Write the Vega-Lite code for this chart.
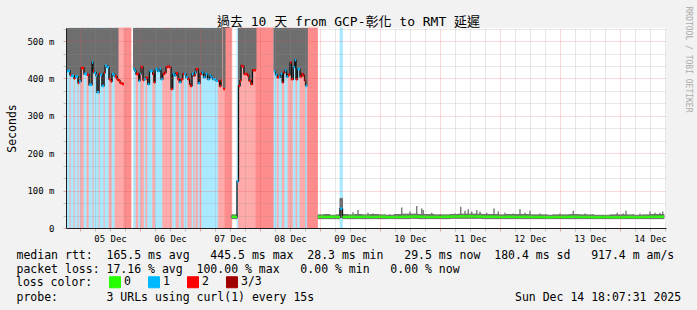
{
  "$schema": "https://vega.github.io/schema/vega-lite/v6.json",
  "width": 600,
  "height": 200,
  "autosize": {"type": "none"},
  "padding": {"left": 66, "top": 28, "right": 31, "bottom": 82},
  "background": "#f2f2f2",
  "config": {"view": {"fill": "#ffffff", "stroke": null}, "font": "DejaVu Sans Mono"},
  "datasets": {
    "periods": [
      {"t0":-5.2,"t1":-4.0,"loss":"1","med":420,"lo":420,"hi":10000},
      {"t0":-4.0,"t1":-3.6,"loss":"2","med":410,"lo":410,"hi":10000},
      {"t0":-3.6,"t1":-2.4,"loss":"1","med":407,"lo":407,"hi":10000},
      {"t0":-2.4,"t1":-2.0,"loss":"2","med":400,"lo":400,"hi":10000},
      {"t0":-2.0,"t1":-0.8,"loss":"1","med":405,"lo":405,"hi":10000},
      {"t0":-0.8,"t1":-0.4,"loss":"2","med":388,"lo":388,"hi":10000},
      {"t0":-0.4,"t1":0.4,"loss":"1","med":392,"lo":392,"hi":10000},
      {"t0":0.4,"t1":1.6,"loss":"2","med":428,"lo":428,"hi":10000},
      {"t0":1.6,"t1":2.8,"loss":"1","med":412,"lo":412,"hi":10000},
      {"t0":2.8,"t1":3.6,"loss":"2","med":410,"lo":410,"hi":10000},
      {"t0":3.6,"t1":4.8,"loss":"1","med":383,"lo":383,"hi":10000},
      {"t0":4.8,"t1":5.2,"loss":"1","med":443,"lo":443,"hi":10000},
      {"t0":5.2,"t1":5.6,"loss":"2","med":420,"lo":420,"hi":10000},
      {"t0":5.6,"t1":6.4,"loss":"1","med":415,"lo":415,"hi":10000},
      {"t0":6.4,"t1":6.8,"loss":"1","med":407,"lo":407,"hi":10000},
      {"t0":6.8,"t1":7.6,"loss":"1","med":363,"lo":363,"hi":10000},
      {"t0":7.6,"t1":8.0,"loss":"2","med":412,"lo":412,"hi":10000},
      {"t0":8.0,"t1":8.8,"loss":"1","med":410,"lo":410,"hi":10000},
      {"t0":8.8,"t1":9.6,"loss":"1","med":380,"lo":380,"hi":10000},
      {"t0":9.6,"t1":10.0,"loss":"2","med":415,"lo":415,"hi":10000},
      {"t0":10.0,"t1":10.8,"loss":"1","med":434,"lo":434,"hi":10000},
      {"t0":10.8,"t1":11.6,"loss":"1","med":430,"lo":430,"hi":10000},
      {"t0":11.6,"t1":12.4,"loss":"2","med":398,"lo":398,"hi":10000},
      {"t0":12.4,"t1":12.8,"loss":"2","med":392,"lo":392,"hi":10000},
      {"t0":12.8,"t1":13.6,"loss":"1","med":412,"lo":412,"hi":10000},
      {"t0":13.6,"t1":14.0,"loss":"1","med":408,"lo":408,"hi":10000},
      {"t0":14.0,"t1":14.8,"loss":"2","med":405,"lo":405,"hi":10000},
      {"t0":14.8,"t1":15.2,"loss":"2","med":398,"lo":398,"hi":10000},
      {"t0":15.2,"t1":16.0,"loss":"2","med":395},
      {"t0":16.0,"t1":16.8,"loss":"2","med":388},
      {"t0":16.8,"t1":17.6,"loss":"2","med":385},
      {"t0":17.6,"t1":20.4,"loss":"3/3"},
      {"t0":21.4,"t1":22.0,"loss":"1","med":425,"lo":425,"hi":10000},
      {"t0":22.0,"t1":22.4,"loss":"1","med":420,"lo":420,"hi":10000},
      {"t0":22.4,"t1":23.5,"loss":"2","med":412,"lo":412,"hi":10000},
      {"t0":23.5,"t1":24.0,"loss":"1","med":394,"lo":394,"hi":10000},
      {"t0":24.0,"t1":24.4,"loss":"1","med":412,"lo":412,"hi":10000},
      {"t0":24.4,"t1":25.2,"loss":"2","med":431,"lo":431,"hi":10000},
      {"t0":25.2,"t1":25.7,"loss":"2","med":396,"lo":396,"hi":10000},
      {"t0":25.7,"t1":26.4,"loss":"1","med":398,"lo":398,"hi":10000},
      {"t0":26.4,"t1":27.1,"loss":"2","med":402,"lo":402,"hi":10000},
      {"t0":27.1,"t1":27.8,"loss":"1","med":385,"lo":385,"hi":10000},
      {"t0":27.8,"t1":29.1,"loss":"1","med":420,"lo":420,"hi":10000},
      {"t0":29.1,"t1":29.6,"loss":"2","med":412,"lo":412,"hi":10000},
      {"t0":29.6,"t1":30.1,"loss":"2","med":390,"lo":390,"hi":10000},
      {"t0":30.1,"t1":31.0,"loss":"1","med":425,"lo":425,"hi":10000},
      {"t0":31.0,"t1":31.8,"loss":"1","med":420,"lo":420,"hi":10000},
      {"t0":31.8,"t1":32.4,"loss":"1","med":425,"lo":425,"hi":10000},
      {"t0":32.4,"t1":33.1,"loss":"1","med":398,"lo":398,"hi":10000},
      {"t0":33.1,"t1":33.8,"loss":"2","med":412,"lo":412,"hi":10000},
      {"t0":33.8,"t1":34.4,"loss":"2","med":416,"lo":416,"hi":10000},
      {"t0":34.4,"t1":35.0,"loss":"2","med":430,"lo":430,"hi":10000},
      {"t0":35.0,"t1":35.8,"loss":"2","med":432,"lo":432,"hi":10000},
      {"t0":35.8,"t1":36.4,"loss":"2","med":430,"lo":430,"hi":10000},
      {"t0":36.4,"t1":37.1,"loss":"2","med":372,"lo":372,"hi":10000},
      {"t0":37.1,"t1":37.8,"loss":"1","med":412,"lo":412,"hi":10000},
      {"t0":37.8,"t1":38.4,"loss":"1","med":408,"lo":408,"hi":10000},
      {"t0":38.4,"t1":39.2,"loss":"2","med":414,"lo":414,"hi":10000},
      {"t0":39.2,"t1":39.7,"loss":"2","med":398,"lo":398,"hi":10000},
      {"t0":39.7,"t1":40.4,"loss":"1","med":390,"lo":390,"hi":10000},
      {"t0":40.4,"t1":41.1,"loss":"2","med":398,"lo":398,"hi":10000},
      {"t0":41.1,"t1":41.7,"loss":"2","med":412,"lo":412,"hi":10000},
      {"t0":41.7,"t1":42.4,"loss":"1","med":412,"lo":412,"hi":10000},
      {"t0":42.4,"t1":43.1,"loss":"1","med":403,"lo":403,"hi":10000},
      {"t0":43.1,"t1":43.8,"loss":"2","med":398,"lo":398,"hi":10000},
      {"t0":43.8,"t1":44.2,"loss":"2","med":385,"lo":385,"hi":10000},
      {"t0":44.2,"t1":44.8,"loss":"2","med":380,"lo":380,"hi":10000},
      {"t0":44.8,"t1":45.5,"loss":"1","med":412,"lo":412,"hi":10000},
      {"t0":45.5,"t1":46.0,"loss":"2","med":408,"lo":408,"hi":10000},
      {"t0":46.0,"t1":46.4,"loss":"1","med":416,"lo":416,"hi":10000},
      {"t0":46.4,"t1":47.3,"loss":"2","med":425,"lo":425,"hi":10000},
      {"t0":47.3,"t1":48.0,"loss":"1","med":387,"lo":387,"hi":10000},
      {"t0":48.0,"t1":48.7,"loss":"2","med":412,"lo":412,"hi":10000},
      {"t0":48.7,"t1":49.4,"loss":"1","med":416,"lo":416,"hi":10000},
      {"t0":49.4,"t1":50.2,"loss":"1","med":403,"lo":403,"hi":10000},
      {"t0":50.2,"t1":51.0,"loss":"1","med":412,"lo":412,"hi":10000},
      {"t0":51.0,"t1":51.8,"loss":"1","med":398,"lo":398,"hi":10000},
      {"t0":51.8,"t1":52.4,"loss":"1","med":408,"lo":408,"hi":10000},
      {"t0":52.4,"t1":53.0,"loss":"1","med":403,"lo":403,"hi":10000},
      {"t0":53.0,"t1":54.4,"loss":"1","med":398,"lo":398,"hi":10000},
      {"t0":54.4,"t1":55.3,"loss":"1","med":394,"lo":394,"hi":10000},
      {"t0":55.3,"t1":55.8,"loss":"2","med":394,"lo":394,"hi":10000},
      {"t0":55.8,"t1":56.4,"loss":"2","med":380,"lo":380,"hi":10000},
      {"t0":56.4,"t1":56.7,"loss":"2","med":394,"lo":394,"hi":10000},
      {"t0":56.7,"t1":57.3,"loss":"2"},
      {"t0":57.3,"t1":58.0,"loss":"2","med":372,"lo":372,"hi":10000},
      {"t0":58.0,"t1":60.7,"loss":"3/3"},
      {"t0":60.7,"t1":62.8,"loss":"0","med":30,"lo":25,"hi":35},
      {"t0":62.8,"t1":63.4,"loss":"1","med":125},
      {"t0":63.4,"t1":64.0,"loss":"2","med":380,"lo":380,"hi":10000},
      {"t0":64.0,"t1":64.4,"loss":"2","med":394,"lo":394,"hi":10000},
      {"t0":64.4,"t1":65.0,"loss":"2","med":434,"lo":434,"hi":10000},
      {"t0":65.0,"t1":65.6,"loss":"2","med":432,"lo":432,"hi":10000},
      {"t0":65.6,"t1":66.4,"loss":"2","med":412,"lo":412,"hi":10000},
      {"t0":66.4,"t1":67.0,"loss":"2","med":412,"lo":412,"hi":10000},
      {"t0":67.0,"t1":67.6,"loss":"2","med":408,"lo":408,"hi":10000},
      {"t0":67.6,"t1":68.4,"loss":"2","med":394,"lo":394,"hi":10000},
      {"t0":68.4,"t1":69.0,"loss":"2","med":385,"lo":385,"hi":10000},
      {"t0":69.0,"t1":69.6,"loss":"2","med":422,"lo":422,"hi":10000},
      {"t0":69.6,"t1":70.4,"loss":"2","med":422,"lo":422,"hi":10000},
      {"t0":70.4,"t1":77.6,"loss":"3/3"},
      {"t0":77.6,"t1":78.2,"loss":"1","med":419,"lo":419,"hi":10000},
      {"t0":78.2,"t1":78.9,"loss":"1","med":410,"lo":410,"hi":10000},
      {"t0":78.9,"t1":79.6,"loss":"2","med":403,"lo":403,"hi":10000},
      {"t0":79.6,"t1":80.2,"loss":"1","med":403,"lo":403,"hi":10000},
      {"t0":80.2,"t1":80.9,"loss":"1","med":412,"lo":412,"hi":10000},
      {"t0":80.9,"t1":81.4,"loss":"2","med":390,"lo":390,"hi":10000},
      {"t0":81.4,"t1":81.9,"loss":"2","med":416,"lo":416,"hi":10000},
      {"t0":81.9,"t1":82.6,"loss":"1","med":422,"lo":422,"hi":10000},
      {"t0":82.6,"t1":83.2,"loss":"1","med":405,"lo":405,"hi":10000},
      {"t0":83.2,"t1":84.0,"loss":"2","med":410,"lo":410,"hi":10000},
      {"t0":84.0,"t1":84.6,"loss":"2","med":443,"lo":443,"hi":10000},
      {"t0":84.6,"t1":85.3,"loss":"2","med":398,"lo":398,"hi":10000},
      {"t0":85.3,"t1":85.9,"loss":"1","med":430,"lo":430,"hi":10000},
      {"t0":85.9,"t1":86.4,"loss":"1","med":449,"lo":449,"hi":10000},
      {"t0":86.4,"t1":87.0,"loss":"2","med":398,"lo":398,"hi":10000},
      {"t0":87.0,"t1":88.0,"loss":"1","med":425,"lo":425,"hi":10000},
      {"t0":88.0,"t1":88.6,"loss":"2","med":405,"lo":405,"hi":10000},
      {"t0":88.6,"t1":89.2,"loss":"2","med":412,"lo":412,"hi":10000},
      {"t0":89.2,"t1":89.8,"loss":"2","med":408,"lo":408,"hi":10000},
      {"t0":89.8,"t1":90.2,"loss":"2","med":395,"lo":395,"hi":10000},
      {"t0":90.2,"t1":90.9,"loss":"1","med":380,"lo":380,"hi":10000},
      {"t0":90.9,"t1":95.0,"loss":"3/3"},
      {"t0":95.2,"t1":97.6,"loss":"0","med":30,"lo":25,"hi":35},
      {"t0":97.6,"t1":100.0,"loss":"0","med":29.5,"lo":25,"hi":36},
      {"t0":100.0,"t1":102.4,"loss":"0","med":30,"lo":25,"hi":34},
      {"t0":102.4,"t1":104.0,"loss":"0","med":29.5,"lo":25,"hi":35},
      {"t0":104.0,"t1":105.0,"loss":"1","med":52,"lo":28,"hi":79},
      {"t0":105.0,"t1":107.2,"loss":"0","med":29.5,"lo":25,"hi":36},
      {"t0":107.2,"t1":110.0,"loss":"0","med":30,"lo":25,"hi":35},
      {"t0":110.0,"t1":112.8,"loss":"0","med":29.5,"lo":25,"hi":36},
      {"t0":112.8,"t1":116.0,"loss":"0","med":30,"lo":25,"hi":35},
      {"t0":116.0,"t1":119.2,"loss":"0","med":29.5,"lo":25,"hi":36},
      {"t0":119.2,"t1":122.4,"loss":"0","med":30,"lo":25,"hi":35},
      {"t0":122.4,"t1":125.6,"loss":"0","med":29,"lo":25,"hi":34},
      {"t0":125.6,"t1":128.8,"loss":"0","med":29.5,"lo":25,"hi":36},
      {"t0":128.8,"t1":132.0,"loss":"0","med":30,"lo":25,"hi":37},
      {"t0":132.0,"t1":135.2,"loss":"0","med":30.5,"lo":26,"hi":37},
      {"t0":135.2,"t1":138.4,"loss":"0","med":30,"lo":25,"hi":36},
      {"t0":138.4,"t1":141.6,"loss":"0","med":29.5,"lo":25,"hi":36},
      {"t0":141.6,"t1":144.8,"loss":"0","med":29.5,"lo":25,"hi":35},
      {"t0":144.8,"t1":148.0,"loss":"0","med":30,"lo":25,"hi":35},
      {"t0":148.0,"t1":151.2,"loss":"0","med":30.5,"lo":26,"hi":36},
      {"t0":151.2,"t1":154.4,"loss":"0","med":31,"lo":26,"hi":37},
      {"t0":154.4,"t1":157.6,"loss":"0","med":31,"lo":26,"hi":37},
      {"t0":157.6,"t1":160.8,"loss":"0","med":30.5,"lo":26,"hi":37},
      {"t0":160.8,"t1":164.0,"loss":"0","med":30,"lo":25,"hi":36},
      {"t0":164.0,"t1":167.2,"loss":"0","med":30,"lo":25,"hi":36},
      {"t0":167.2,"t1":170.4,"loss":"0","med":29.5,"lo":25,"hi":35},
      {"t0":170.4,"t1":173.6,"loss":"0","med":30,"lo":25,"hi":36},
      {"t0":173.6,"t1":176.8,"loss":"0","med":29.5,"lo":25,"hi":36},
      {"t0":176.8,"t1":180.0,"loss":"0","med":30,"lo":25,"hi":36},
      {"t0":180.0,"t1":183.2,"loss":"0","med":29.5,"lo":25,"hi":35},
      {"t0":183.2,"t1":186.4,"loss":"0","med":29.5,"lo":25,"hi":35},
      {"t0":186.4,"t1":189.6,"loss":"0","med":29,"lo":25,"hi":34},
      {"t0":189.6,"t1":192.8,"loss":"0","med":29.5,"lo":25,"hi":35},
      {"t0":192.8,"t1":196.0,"loss":"0","med":29.5,"lo":25,"hi":35},
      {"t0":196.0,"t1":199.2,"loss":"0","med":30,"lo":25,"hi":36},
      {"t0":199.2,"t1":202.4,"loss":"0","med":29.5,"lo":25,"hi":35},
      {"t0":202.4,"t1":205.6,"loss":"0","med":29.5,"lo":25,"hi":35},
      {"t0":205.6,"t1":208.8,"loss":"0","med":29,"lo":25,"hi":34},
      {"t0":208.8,"t1":212.0,"loss":"0","med":29.5,"lo":25,"hi":34},
      {"t0":212.0,"t1":215.2,"loss":"0","med":29,"lo":25,"hi":35},
      {"t0":215.2,"t1":218.4,"loss":"0","med":29,"lo":25,"hi":35},
      {"t0":218.4,"t1":221.6,"loss":"0","med":29.5,"lo":25,"hi":35},
      {"t0":221.6,"t1":224.8,"loss":"0","med":29,"lo":25,"hi":34},
      {"t0":224.8,"t1":228.0,"loss":"0","med":29.5,"lo":25,"hi":35},
      {"t0":228.0,"t1":231.2,"loss":"0","med":30,"lo":25,"hi":36},
      {"t0":231.2,"t1":233.6,"loss":"0","med":30,"lo":25,"hi":36}
    ],
    "spikes": [
      {"t":109.2,"lo":30,"hi":42},{"t":111.2,"lo":30,"hi":48},{"t":115.2,"lo":30,"hi":41},
      {"t":117.2,"lo":30,"hi":39},{"t":119.6,"lo":30,"hi":36.5},{"t":124.0,"lo":30,"hi":36.5},
      {"t":128.7,"lo":30,"hi":55},{"t":132.0,"lo":30,"hi":44},{"t":134.7,"lo":30,"hi":59},
      {"t":136.7,"lo":30,"hi":52},{"t":137.3,"lo":30,"hi":48},{"t":140.7,"lo":30,"hi":41},
      {"t":144.0,"lo":30,"hi":37},{"t":148.0,"lo":30,"hi":35},{"t":150.0,"lo":30,"hi":39},
      {"t":152.3,"lo":30,"hi":57},{"t":154.0,"lo":30,"hi":46},{"t":155.3,"lo":30,"hi":50},
      {"t":156.7,"lo":30,"hi":44},{"t":158.7,"lo":30,"hi":48},{"t":160.0,"lo":30,"hi":44},
      {"t":162.7,"lo":30,"hi":41},{"t":165.6,"lo":30,"hi":52},{"t":167.3,"lo":30,"hi":44},
      {"t":170.0,"lo":30,"hi":41},{"t":173.3,"lo":30,"hi":39},{"t":176.0,"lo":30,"hi":50},
      {"t":178.0,"lo":30,"hi":41},{"t":180.0,"lo":30,"hi":46},{"t":184.0,"lo":30,"hi":39},
      {"t":186.7,"lo":30,"hi":37},{"t":189.3,"lo":30,"hi":37},{"t":192.0,"lo":30,"hi":39},
      {"t":196.0,"lo":30,"hi":37},{"t":197.3,"lo":30,"hi":46},{"t":200.0,"lo":30,"hi":37},
      {"t":202.0,"lo":30,"hi":39},{"t":205.3,"lo":30,"hi":37},{"t":209.3,"lo":30,"hi":35},
      {"t":212.0,"lo":30,"hi":35},{"t":214.9,"lo":30,"hi":41},{"t":217.3,"lo":30,"hi":39},
      {"t":218.4,"lo":30,"hi":46},{"t":221.3,"lo":30,"hi":37},{"t":224.0,"lo":30,"hi":39},
      {"t":228.0,"lo":30,"hi":44},{"t":230.0,"lo":30,"hi":41},{"t":232.0,"lo":30,"hi":41},
      {"t":233.1,"lo":30,"hi":44}
    ]
  },
  "layer": [
    {
      "data": {"name": "periods"},
      "transform": [{"filter": "datum.loss == '1' || datum.loss == '2' || datum.loss == '3/3'"}],
      "mark": {"type": "rect", "strokeWidth": 0.8},
      "encoding": {
        "x": {
          "field": "t0", "type": "quantitative",
          "scale": {"domain": [-5.6, 234.4], "nice": false, "zero": false},
          "axis": {
            "orient": "bottom",
            "values": [0,6,12,18,24,30,36,42,48,54,60,66,72,78,84,90,96,102,108,114,120,126,132,138,144,150,156,162,168,174,180,186,192,198,204,210,216,222,228,234],
            "labelExpr": "datum.value % 24 == 12 ? timeFormat(datetime(2025, 11, 5, datum.value), '%d %b') : ''",
            "labelFont": "DejaVu Sans Mono", "labelFontSize": 9, "labelColor": "#000000",
            "labelBaseline": "alphabetic", "labelPadding": 10, "labelOverlap": false, "labelFlush": false,
            "ticks": true, "tickSize": 3,
            "tickColor": {"condition": {"test": "datum.value % 24 == 0", "value": "rgba(222,79,79,0.5)"}, "value": "rgba(143,143,143,0.5)"},
            "grid": true, "gridDash": [1, 1], "gridWidth": 1,
            "gridColor": {"condition": {"test": "datum.value % 24 == 0", "value": "rgba(222,79,79,0.45)"}, "value": "rgba(143,143,143,0.42)"},
            "domain": true, "domainColor": "#1f1f1f", "domainWidth": 1,
            "title": [
              "median rtt:\u00a0\u00a0165.5 ms avg\u00a0\u00a0\u00a0445.5 ms max\u00a0\u00a028.3 ms min\u00a0\u00a0\u00a029.5 ms now\u00a0\u00a0180.4 ms sd\u00a0\u00a0\u00a0917.4 m am/s",
              "packet loss:\u00a017.16 % avg\u00a0\u00a0100.00 % max\u00a0\u00a0\u00a00.00 % min\u00a0\u00a0\u00a00.00 % now"
            ],
            "titleX": -50, "titleY": 30, "titleAlign": "left", "titleAnchor": "start", "titleBaseline": "alphabetic",
            "titleFont": "DejaVu Sans Mono", "titleFontSize": 11.5, "titleFontWeight": "normal",
            "titleColor": "#000000", "titleLineHeight": 14,
            "zindex": 1
          }
        },
        "x2": {"field": "t1"},
        "fill": {
          "field": "loss", "type": "nominal",
          "scale": {"domain": ["1", "2", "3/3"], "range": ["#aae9ff", "#ffaaaa", "#ff8c8c"]},
          "legend": null
        },
        "stroke": {
          "field": "loss", "type": "nominal",
          "scale": {"domain": ["1", "2", "3/3"], "range": ["#aae9ff", "#ffaaaa", "#ff8c8c"]},
          "legend": null
        }
      }
    },
    {
      "data": {"name": "periods"},
      "transform": [{"filter": "datum.hi != null"}],
      "mark": {"type": "rect", "clip": true, "color": "#6e6e6e", "stroke": "#6e6e6e", "strokeWidth": 1},
      "encoding": {
        "x": {
          "field": "t0", "type": "quantitative",
          "scale": {"domain": [-5.6, 234.4], "nice": false, "zero": false},
          "axis": {
            "orient": "top", "labels": false, "ticks": false, "domain": false, "grid": false,
            "title": "過去 10 天 from GCP-彰化 to RMT 延遲",
            "titleFont": "DejaVu Sans Mono, Noto Sans CJK TC", "titleFontSize": 13, "titleFontWeight": "normal",
            "titleColor": "#000000", "titleX": 282, "titleY": -3, "titleAlign": "center", "titleBaseline": "alphabetic"
          }
        },
        "x2": {"field": "t1"},
        "y": {
          "field": "lo", "type": "quantitative",
          "scale": {"domain": [0, 535], "nice": false, "zero": false},
          "axis": {
            "orient": "right", "labels": false, "ticks": false, "domain": false, "grid": false,
            "title": "RRDTOOL / TOBI OETIKER",
            "titleFont": "DejaVu Sans Mono", "titleFontSize": 8, "titleFontWeight": "normal",
            "titleColor": "#aaaaaa", "titleAngle": 90, "titleX": 19, "titleY": 31, "titleAlign": "center", "titleBaseline": "alphabetic"
          }
        },
        "y2": {"field": "hi"}
      }
    },
    {
      "data": {"name": "spikes"},
      "mark": {"type": "rule", "color": "#6e6e6e", "strokeWidth": 1.3},
      "encoding": {
        "x": {
          "field": "t", "type": "quantitative",
          "scale": {"domain": [-5.6, 234.4], "nice": false, "zero": false},
          "axis": {
            "orient": "bottom", "labels": false, "ticks": false, "domain": false, "grid": false,
            "title": "probe:\u00a0\u00a0\u00a0\u00a0\u00a0\u00a0\u00a03 URLs using curl(1) every 15s\u00a0\u00a0\u00a0\u00a0\u00a0\u00a0\u00a0\u00a0\u00a0\u00a0\u00a0\u00a0\u00a0\u00a0\u00a0\u00a0\u00a0\u00a0\u00a0\u00a0\u00a0\u00a0\u00a0\u00a0\u00a0\u00a0\u00a0\u00a0\u00a0Sun Dec 14 18:07:31 2025",
            "titleX": -50, "titleY": 72, "titleAlign": "left", "titleAnchor": "start", "titleBaseline": "alphabetic",
            "titleFont": "DejaVu Sans Mono", "titleFontSize": 11.5, "titleFontWeight": "normal", "titleColor": "#000000"
          }
        },
        "y": {"field": "lo", "type": "quantitative", "scale": {"domain": [0, 535], "nice": false, "zero": false}, "axis": null},
        "y2": {"field": "hi"}
      }
    },
    {
      "data": {"name": "periods"},
      "mark": {"type": "line", "interpolate": "step-after", "color": "#111111", "strokeWidth": 1.3, "invalid": "break-paths-filter-domains"},
      "encoding": {
        "x": {"field": "t0", "type": "quantitative", "scale": {"domain": [-5.6, 234.4], "nice": false, "zero": false}, "axis": null},
        "y": {
          "field": "med", "type": "quantitative",
          "scale": {"domain": [0, 535], "nice": false, "zero": false},
          "axis": {
            "orient": "left",
            "values": [0, 33.333, 66.667, 100, 133.333, 166.667, 200, 233.333, 266.667, 300, 333.333, 366.667, 400, 433.333, 466.667, 500, 533.333],
            "labelExpr": "abs(datum.value - 100 * round(datum.value / 100)) < 0.5 ? (datum.value < 1 ? '0' : round(datum.value) + ' m') : ''",
            "labelFont": "DejaVu Sans Mono", "labelFontSize": 9, "labelColor": "#000000", "labelPadding": 9, "labelBaseline": "middle",
            "labelOverlap": false, "labelFlush": false,
            "ticks": true, "tickSize": 3,
            "tickColor": {"condition": {"test": "abs(datum.value - 100 * round(datum.value / 100)) < 0.5", "value": "rgba(222,79,79,0.5)"}, "value": "rgba(143,143,143,0.5)"},
            "grid": true, "gridDash": [1, 1], "gridWidth": 1,
            "gridColor": {"condition": {"test": "abs(datum.value - 100 * round(datum.value / 100)) < 0.5", "value": "rgba(222,79,79,0.45)"}, "value": "rgba(143,143,143,0.42)"},
            "gridOpacity": {"condition": {"test": "datum.value < 1", "value": 0}, "value": 1},
            "domain": true, "domainColor": "#1f1f1f", "domainWidth": 1,
            "title": "Seconds", "titleFont": "DejaVu Sans Mono", "titleFontSize": 11.5, "titleFontWeight": "normal",
            "titleColor": "#000000", "titleX": -51, "titleY": 100, "titleAngle": -90, "titleAlign": "center", "titleBaseline": "alphabetic",
            "zindex": 1
          }
        }
      }
    },
    {
      "data": {"name": "periods"},
      "transform": [{"filter": "datum.med != null"}],
      "mark": {"type": "rule", "strokeWidth": 2.5},
      "encoding": {
        "x": {"field": "t0", "type": "quantitative", "scale": {"domain": [-5.6, 234.4], "nice": false, "zero": false}, "axis": null},
        "x2": {"field": "t1"},
        "y": {"field": "med", "type": "quantitative", "scale": {"domain": [0, 535], "nice": false, "zero": false}, "axis": null},
        "color": {
          "field": "loss", "type": "nominal",
          "scale": {"domain": ["0", "1", "2", "3/3"], "range": ["#26ff00", "#00b8ff", "#ff0000", "#a00000"]},
          "legend": {
            "orient": "none", "legendX": -50, "legendY": 248, "direction": "horizontal",
            "title": "loss color:", "titleOrient": "left", "titleAnchor": "middle", "titleBaseline": "middle",
            "titleFont": "DejaVu Sans Mono", "titleFontSize": 11.5, "titleFontWeight": "normal", "titleColor": "#000000", "titlePadding": 16,
            "symbolType": "square", "symbolSize": 121, "symbolStrokeWidth": 1,
            "labelFont": "DejaVu Sans Mono", "labelFontSize": 11.5, "labelColor": "#000000", "labelOffset": 3,
            "columnPadding": 15, "padding": 0,
            "encode": {"symbols": {"update": {"fill": {"scale": "color", "field": "value"}, "fillOpacity": {"value": 1}, "stroke": {"value": "#000000"}, "strokeWidth": {"value": 1}}}}
          }
        }
      }
    }
  ],
  "resolve": {"axis": {"x": "independent", "y": "independent"}}
}
